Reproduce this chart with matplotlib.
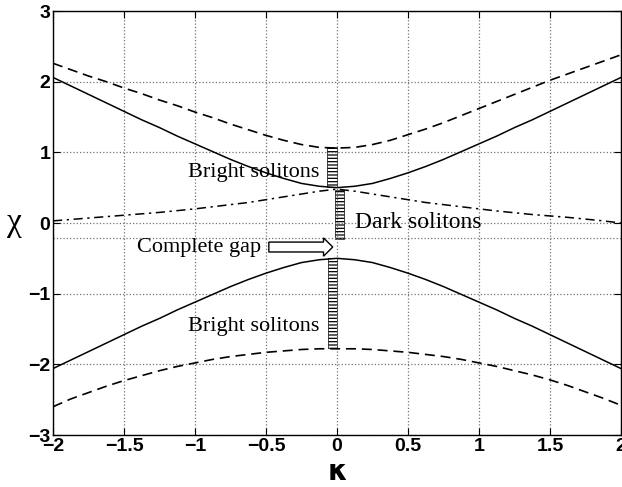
import numpy as np
import matplotlib
matplotlib.use('Agg')
import matplotlib.pyplot as plt
from matplotlib.patches import FancyArrow

# values, kappa from -2 to 2
kappa = [-2, -1.875, -1.75, -1.625, -1.5, -1.375, -1.25, -1.125, -1,
         -0.875, -0.75, -0.625, -0.5, -0.375, -0.25, -0.125, 0,
         0.125, 0.25, 0.375, 0.5, 0.625, 0.75, 0.875, 1,
         1.125, 1.25, 1.375, 1.5, 1.625, 1.75, 1.875, 2]
solid_up = [2.06, 1.94, 1.82, 1.70, 1.58, 1.46, 1.35, 1.23, 1.12,
            1.01, 0.90, 0.80, 0.71, 0.63, 0.56, 0.52, 0.50,
            0.52, 0.56, 0.63, 0.71, 0.80, 0.90, 1.01, 1.12,
            1.23, 1.35, 1.46, 1.58, 1.70, 1.82, 1.94, 2.06]
solid_lo = [-v for v in solid_up]
dash_up = [2.26, 2.17, 2.08, 2.00, 1.91, 1.83, 1.74, 1.66, 1.57,
           1.49, 1.40, 1.32, 1.24, 1.17, 1.11, 1.07, 1.06,
           1.07, 1.11, 1.17, 1.25, 1.33, 1.42, 1.52, 1.62,
           1.72, 1.82, 1.92, 2.02, 2.11, 2.20, 2.29, 2.38]
dash_lo = [-2.60, -2.49, -2.40, -2.31, -2.23, -2.16, -2.09, -2.03, -1.98,
           -1.93, -1.89, -1.86, -1.83, -1.81, -1.79, -1.78, -1.78,
           -1.78, -1.79, -1.81, -1.83, -1.86, -1.89, -1.93, -1.98,
           -2.03, -2.09, -2.15, -2.22, -2.30, -2.39, -2.48, -2.58]
dashdot = [0.03, 0.05, 0.07, 0.09, 0.11, 0.13, 0.15, 0.175, 0.20,
           0.23, 0.26, 0.29, 0.33, 0.37, 0.41, 0.45, 0.48,
           0.45, 0.41, 0.37, 0.33, 0.29, 0.26, 0.23, 0.20,
           0.17, 0.145, 0.12, 0.10, 0.08, 0.055, 0.03, 0.00]

# hatched soliton bands: kappa position, bottom, top
band_k = [-0.035, 0.02, -0.03]
band_lo = [0.51, -0.23, -1.77]
band_hi = [1.07, 0.47, -0.50]

gap_line = -0.21

xticks = [-2, -1.5, -1, -0.5, 0, 0.5, 1, 1.5, 2]
yticks = [-3, -2, -1, 0, 1, 2, 3]

plt.rcParams['hatch.linewidth'] = 0.9

fig = plt.figure(figsize=(6.22, 4.87), dpi=100)
ax = fig.add_axes([53/622, 1-435/487, 568/622, 424/487])

ax.plot(kappa, solid_up, color='k', lw=1.1)
ax.plot(kappa, solid_lo, color='k', lw=1.1)
ax.plot(kappa, dash_up, color='k', lw=1.2, dashes=(6, 3.5))
ax.plot(kappa, dash_lo, color='k', lw=1.2, dashes=(6, 3.5))
ax.plot(kappa, dashdot, color='k', lw=1.1, dashes=(6, 3, 1.5, 3))

for k, lo, hi in zip(band_k, band_lo, band_hi):
    ax.bar(k, hi - lo, bottom=lo, width=0.065, fill=False,
           hatch='-----', edgecolor='k', linewidth=0.5)

ax.axhline(gap_line, color='0.45', ls=':', lw=0.9)

ax.add_patch(FancyArrow(-0.48, -0.34, 0.45, 0, width=0.14, head_width=0.26,
                        head_length=0.065, length_includes_head=True,
                        fc='white', ec='k', lw=1.0))

tfont = dict(family='Liberation Serif', fontsize=16)
ax.text(-1.05, 0.72, 'Bright solitons', va='center', **tfont)
ax.text(-1.05, -1.47, 'Bright solitons', va='center', **tfont)
ax.text(0.13, 0.0, 'Dark solitons', va='center', family='Liberation Serif',
        fontsize=17)
ax.text(-1.41, -0.34, 'Complete gap', va='center', **tfont)

ax.set_xlim(-2, 2)
ax.set_ylim(-3, 3)
ax.set_xticks(xticks)
ax.set_yticks(yticks)
ax.set_xticklabels([f'{t:g}'.replace('-', '\u2212') for t in xticks])
ax.set_yticklabels([f'{t:g}'.replace('-', '\u2212') for t in yticks])
ax.grid(True, color='0.45', ls=':', lw=0.9)
ax.tick_params(direction='in', top=True, right=True, length=5,
               labelsize=14, pad=2)
for lab in ax.get_xticklabels() + ax.get_yticklabels():
    lab.set_family('Liberation Sans')
    lab.set_fontweight('bold')
for s in ax.spines.values():
    s.set_linewidth(1.0)

ax.set_xlabel('κ', fontsize=20, fontweight='bold', labelpad=2)
ax.set_ylabel('χ', fontsize=24, family='Liberation Serif', rotation=0,
              labelpad=10, va='center')

fig.savefig('out.png', dpi=100)
